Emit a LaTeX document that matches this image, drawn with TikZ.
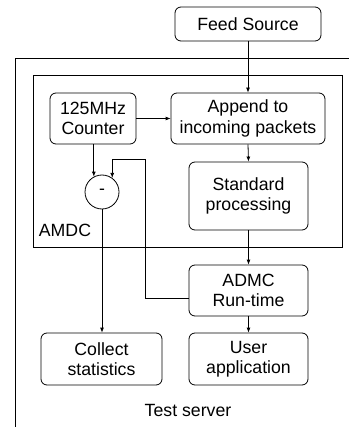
\documentclass[tikz,border=0pt]{standalone}
\usepackage{fontspec}
\setmainfont{Liberation Sans}
\usetikzlibrary{arrows.meta}
\begin{document}
\begin{tikzpicture}[x=1pt,y=-1pt,
  every node/.style={font=\fontsize{17.7}{20.4}\selectfont, inner sep=0pt},
  blk/.style={draw, rounded corners=6pt, align=center, line width=0.8pt},
  frame/.style={draw, line width=0.8pt},
  conn/.style={line width=0.8pt},
  arr/.style={conn, -{Latex[length=5pt,width=4pt]}}]
\useasboundingbox (0,0) rectangle (349,427);
\node[blk, minimum width=146pt, minimum height=34pt] (feed) at (248,24) {Feed Source};
\draw[frame] (15,427) -- (15,58) -- (349,58);
\draw[frame] (33,75) rectangle (342,247);
\node[blk, minimum width=86pt, minimum height=51pt] (counter) at (93,118.5) {125MHz\\Counter};
\node[blk, minimum width=154pt, minimum height=51pt] (append) at (248,118.5) {Append to\\incoming packets};
\node[blk, minimum width=119pt, minimum height=68pt] (std) at (248.5,196) {Standard\\processing};
\node[draw, circle, minimum size=34pt, line width=0.8pt] (minus) at (102,192) {-};
\node (amdc) at (65,230) {AMDC};
\node[blk, minimum width=119pt, minimum height=51pt] (admc) at (248.5,290.5) {ADMC\\Run-time};
\node[blk, minimum width=121pt, minimum height=52pt] (collect) at (101.5,359) {Collect\\statistics};
\node[blk, minimum width=119pt, minimum height=52pt] (user) at (248.5,359) {User\\application};
\node (ts) at (188,410) {Test server};
\coordinate (fb) at (145,159);
\draw[arr] (feed.south) -- (append.north);
\draw[arr] (counter.east) -- (append.west);
\draw[arr] (append.south) -- (std.north);
\draw[arr] (std.south) -- (admc.north);
\draw[arr] (admc.south) -- (user.north);
\draw[arr] (minus.118 |- counter.south) -- (minus.118);
\draw[arr] ([yshift=-7.5pt]admc.west) -| (fb) -| (minus.54);
\draw[arr] (minus.south) -- (minus.south |- collect.north);
\end{tikzpicture}
\end{document}
